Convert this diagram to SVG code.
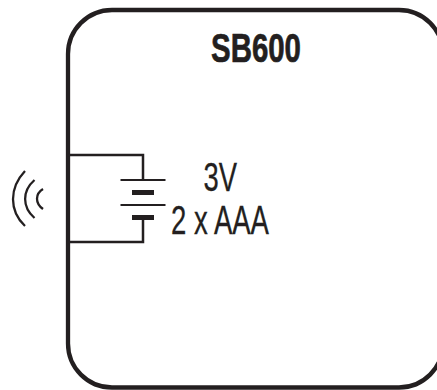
<svg xmlns="http://www.w3.org/2000/svg" width="437" height="390" viewBox="0 0 437 390">
<style>
.l{fill:none;stroke:#231f20;stroke-linecap:butt}
.t{font-family:"Liberation Sans",Arial,sans-serif;fill:#231f20;font-size:41px}
</style>
<rect width="437" height="390" fill="#fff"/>
<g id="box"><rect class="l" x="68" y="10" width="375" height="377.500" rx="44" ry="44" stroke-width="4.300"/>
<text class="t" x="211" y="62" font-size="42" font-weight="700" stroke="#231f20" stroke-width="0.700" textLength="90" lengthAdjust="spacingAndGlyphs">SB600</text></g>
<g id="battery">
<rect x="132" y="190" width="22" height="5" fill="#231f20"/>
<rect x="132" y="215" width="22" height="5" fill="#231f20"/>
<path class="l" stroke-width="2" d="M120.500 180H165.500M120.500 205H165.500"/>
<text class="t" x="203.500" y="191" stroke="#231f20" stroke-width="0.300" textLength="33.500" lengthAdjust="spacingAndGlyphs">3V</text>
<text class="t" x="171" y="234" stroke="#231f20" stroke-width="0.300" textLength="98" lengthAdjust="spacingAndGlyphs">2 x AAA</text></g>
<g id="signal"><path class="l" stroke-width="2.300" d="M25 171C9 188 9 211 25 226M34.500 180C22 191 22 207 34.500 218M43 189C35 194 35 203 43 209"/></g>
<g id="connectors"><path class="l" stroke-width="2.500" d="M68 155H143V180M68 242H143V218"/></g>
</svg>
